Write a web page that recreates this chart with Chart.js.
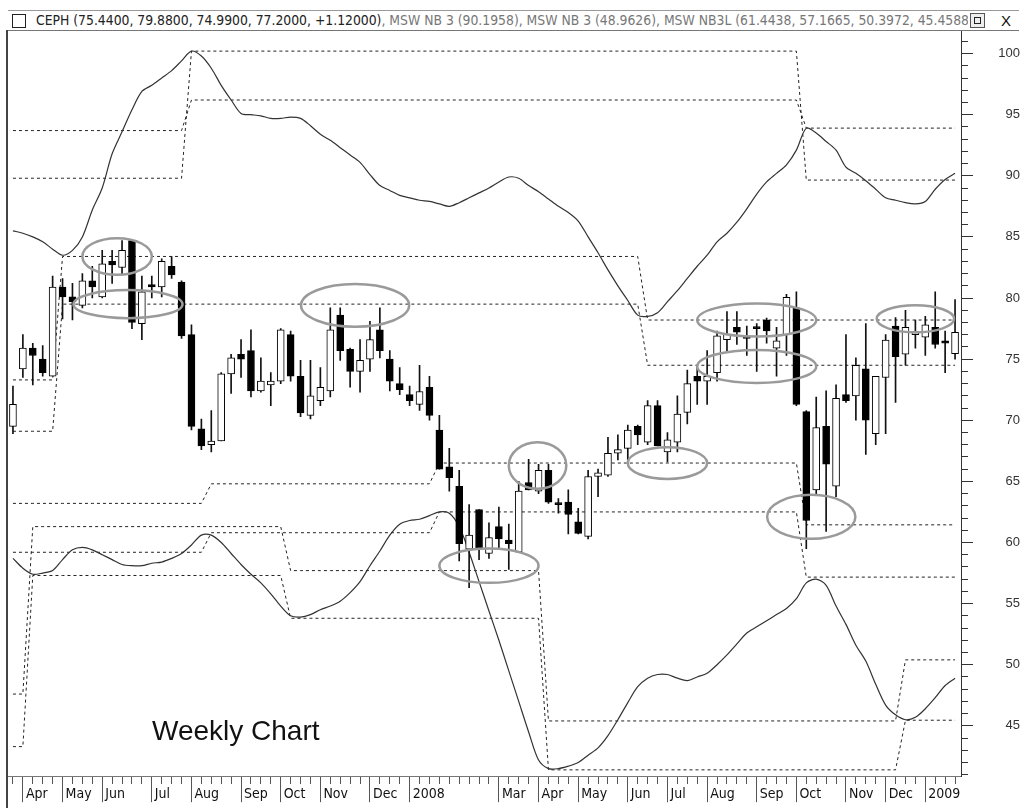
<!DOCTYPE html>
<html>
<head>
<meta charset="utf-8">
<script src="https://cdn.jsdelivr.net/npm/chart.js@4"></script>
<style>
  body { margin: 0; background: #fff; }
  #wrap { position: relative; width: 1020px; height: 808px; overflow: hidden; }
  #grafico { position: absolute; left: 0; top: 0; }
  #cabecalho {
    position: absolute; left: 8px; top: 10px; width: 1011px; height: 19px;
    border-top: 1px solid #999; border-bottom: 1px solid #777; background: #fff;
    font-family: "Liberation Sans Narrow", "DejaVu Sans Condensed", sans-serif;
    font-size: 13.8px; line-height: 19px; white-space: nowrap; overflow: hidden;
  }
  #cabecalho .icone { position: absolute; left: 4px; top: 3px; width: 12px; height: 12px; border: 1px solid #222; background: #fff; }
  #cabecalho .texto { position: absolute; left: 28px; top: 0; width: 932px; overflow: hidden; color: #777; }
  #cabecalho .texto b { font-weight: normal; color: #222; }
  #cabecalho .btn1 { position: absolute; left: 962px; top: 2px; width: 13px; height: 13px; border: 1px solid #555; background: #eee; }
  #cabecalho .btn1 span { position: absolute; left: 3px; top: 3px; width: 5px; height: 5px; border: 1px solid #222; }
  #cabecalho .btn2 { position: absolute; left: 993px; top: 0; font-family: "Liberation Sans", sans-serif; font-size: 15px; color: #111; }
  #moldura { position: absolute; left: 6px; top: 30px; width: 2px; height: 778px; background: #444; }
  #rotulo { position: absolute; left: 152px; top: 715px; font-family: "Liberation Sans", Arial, sans-serif; font-size: 28px; color: #111; }
</style>
</head>
<body>
<div id="wrap">
  <canvas id="grafico" width="1020" height="808"></canvas>
  <div id="cabecalho">
    <div class="icone"></div>
    <div class="texto"><b>CEPH (75.4400, 79.8800, 74.9900, 77.2000, +1.12000)</b>, MSW NB 3 (90.1958), MSW NB 3 (48.9626), MSW NB3L (61.4438, 57.1665, 50.3972, 45.4588</div>
    <div class="btn1"><span></span></div>
    <div class="btn2">X</div>
  </div>
  <div id="moldura"></div>
  <div id="rotulo">Weekly Chart</div>
</div>
<script>
// semanas: 0 = final de marco 2007 ... 95 = janeiro 2009
var abertura = [69.5, 74.2, 75.9, 75.0, 73.6, 80.9, 80.1, 79.4, 81.4, 80.1, 83.0, 82.5, 84.7, 77.9, 81.1, 80.9,
  82.6, 81.3, 77.0, 69.3, 68.0, 68.3, 73.8, 75.4, 75.7, 72.4, 72.9, 73.2, 77.0, 73.6, 70.4, 71.6,
  72.4, 78.6, 75.8, 74.0, 75.0, 77.4, 75.0, 73.0, 72.1, 71.3, 72.7, 69.2, 66.2, 64.6, 59.45, 62.7,
  59.1, 61.3, 60.2, 59.2, 64.9, 64.2, 65.9, 63.2, 63.3, 61.7, 60.5, 65.4, 65.5, 67.3, 67.7, 69.5,
  68.2, 71.2, 67.4, 68.2, 70.65, 73.6, 73.2, 73.9, 76.6, 77.6, 76.8, 77.6, 78.2, 75.9, 77.0, 79.2,
  70.7, 64.3, 69.5, 64.6, 72.1, 72.0, 74.2, 68.9, 73.5, 77.7, 75.4, 77.0, 76.8, 77.6, 76.5, 75.44];
var maxima = [72.8, 77.0, 76.3, 76.1, 81.8, 81.6, 81.2, 82.0, 82.6, 83.9, 83.9, 84.7, 84.8, 81.8, 81.8, 83.2,
  83.4, 81.4, 77.8, 70.1, 70.8, 73.9, 75.4, 76.6, 77.4, 75.1, 73.9, 77.5, 77.3, 74.9, 74.9, 74.3,
  79.2, 79.2, 75.9, 76.6, 78.1, 79.2, 75.7, 74.3, 72.8, 74.5, 73.6, 70.4, 67.7, 65.9, 63.1, 62.7,
  61.6, 62.9, 61.5, 65.0, 66.8, 66.4, 66.4, 63.6, 64.3, 62.8, 65.9, 66.0, 68.6, 68.8, 69.6, 69.6,
  71.6, 71.6, 69.0, 72.0, 74.1, 74.5, 75.7, 77.3, 78.9, 78.9, 77.7, 77.9, 78.35, 77.6, 80.3, 80.5,
  70.8, 71.9, 72.4, 72.9, 77.0, 75.1, 77.9, 73.6, 77.0, 78.4, 79.0, 78.2, 78.5, 80.5, 77.3, 79.88];
var minimas = [68.9, 73.5, 72.9, 73.6, 73.6, 78.3, 78.2, 79.2, 80.0, 80.0, 81.2, 82.0, 77.5, 76.6, 80.0, 80.1,
  81.6, 76.7, 69.2, 67.6, 67.4, 68.3, 72.2, 73.5, 71.9, 72.3, 71.2, 73.0, 73.2, 70.3, 70.1, 71.2,
  71.9, 74.9, 72.7, 72.3, 74.0, 75.1, 72.4, 72.1, 71.2, 70.8, 70.0, 66.0, 64.2, 58.5, 56.3, 58.6,
  58.7, 59.5, 57.8, 59.2, 64.3, 64.0, 63.2, 62.4, 60.7, 60.7, 60.3, 63.75, 65.4, 66.75, 66.7, 68.0,
  68.0, 67.9, 66.6, 67.4, 69.7, 71.3, 71.3, 73.2, 75.7, 76.2, 75.3, 74.0, 76.3, 73.6, 75.3, 71.2,
  59.5, 64.0, 60.9, 63.75, 71.45, 70.0, 67.2, 68.0, 68.9, 71.45, 74.5, 75.9, 75.3, 75.9, 73.9, 74.99];
var fechamento = [71.3, 75.9, 75.3, 73.9, 80.9, 80.1, 79.7, 81.4, 80.9, 82.8, 82.7, 83.9, 78.0, 80.5, 80.9, 83.0,
  81.9, 76.9, 69.5, 67.9, 68.3, 73.8, 75.1, 75.0, 72.4, 73.2, 73.2, 77.4, 73.6, 70.6, 72.0, 72.7,
  77.4, 75.7, 74.0, 74.9, 76.6, 75.7, 73.2, 72.5, 71.6, 72.35, 70.4, 66.0, 65.3, 59.9, 60.6, 59.45,
  60.4, 60.3, 59.9, 64.2, 64.3, 65.9, 63.3, 63.1, 62.3, 60.75, 65.4, 65.7, 67.3, 67.6, 69.2, 68.8,
  71.2, 67.9, 68.4, 70.5, 73.0, 73.2, 73.6, 76.9, 77.05, 77.2, 76.7, 77.5, 77.3, 76.5, 80.05, 71.3,
  61.8, 69.4, 66.4, 71.8, 71.6, 74.5, 70.0, 73.6, 76.55, 75.2, 77.6, 77.0, 77.8, 76.2, 76.3, 77.20];

// MSW NB 3 (curvas continuas)
var bandaSuperior = [85.5, 85.3, 85.0, 84.6, 84.0, 83.5, 83.9, 85.0, 87.2, 89.0, 91.8, 93.6, 95.4, 96.9, 97.4, 98.0,
  98.6, 99.4, 100.2, 99.8, 98.8, 97.4, 96.2, 95.1, 95.0, 94.9, 94.7, 94.7, 94.8, 94.7, 94.1, 93.4,
  92.9, 92.3, 91.7, 91.1, 90.1, 89.2, 88.8, 88.4, 88.2, 88.0, 87.9, 87.7, 87.5, 87.8, 88.2, 88.6,
  89.0, 89.5, 89.9, 89.8, 89.2, 88.7, 88.1, 87.5, 87.0, 86.3, 85.0, 83.7, 82.3, 81.0, 79.8, 78.6,
  78.5, 78.8, 79.7, 80.6, 81.6, 82.6, 83.5, 84.6, 85.3, 86.2, 87.3, 88.5, 89.5, 90.2, 90.9, 92.1,
  93.9, 93.5, 92.8, 92.1, 90.7, 90.2, 89.6, 88.9, 88.2, 88.0, 87.8, 87.7, 87.9, 88.9, 89.7, 90.2];
var bandaInferior = [58.7, 57.9, 57.4, 57.5, 57.7, 58.6, 59.4, 59.6, 59.4, 59.0, 58.6, 58.2, 58.1, 58.1, 58.3, 58.4,
  58.7, 59.1, 59.8, 60.6, 60.6, 60.0, 59.1, 58.2, 57.4, 56.7, 55.8, 54.8, 54.0, 53.9, 54.1, 54.5,
  54.8, 55.2, 55.9, 56.8, 58.1, 59.3, 60.6, 61.5, 61.8, 61.9, 62.2, 62.5, 62.4, 61.3, 59.2, 56.8,
  54.4, 52.0, 49.5, 47.0, 44.5, 42.2, 41.5, 41.5, 41.7, 42.0, 42.6, 43.2, 44.2, 45.5, 46.9, 48.2,
  48.9, 49.2, 49.2, 48.9, 48.7, 49.0, 49.3, 50.0, 50.8, 51.7, 52.6, 53.1, 53.6, 54.1, 54.6, 55.4,
  56.7, 57.0, 56.5, 54.8, 53.3, 51.6, 50.3, 48.4, 46.7, 45.9, 45.5, 45.7, 46.4, 47.3, 48.3, 48.9];

// linhas tracejadas em degraus: niveis e semana em que cada novo nivel comeca
var nivelSup1 = [93.7, 96.2, 93.9];
var nivelSup2 = [89.8, 100.2, 89.65];
var quebrasSup = [18, 80];
var nivelMeio1 = [73.3, 83.4, 78.2];
var nivelMeio2 = [69.1, 79.5, 74.5];
var quebrasMeio = [5, 64];
var nivelNB3L1 = [63.2, 64.8, 66.5, 61.4438];
var nivelNB3L2 = [59.2, 60.8, 62.5, 57.1665];
var quebrasNB3L_a = [20, 43, 80];
var nivelNB3L3 = [47.6, 61.3, 57.7, 45.4, 50.3972];
var nivelNB3L4 = [43.3, 57.3, 53.8, 41.4, 45.4588];
var quebrasNB3L_b = [2, 28, 54, 90];

// elipses de destaque
var elipseSemana = [10.5, 11.6, 34.5, 48.0, 52.9, 66.0, 75.0, 75.0, 80.5, 91.0];
var elipseValor = [83.4, 79.5, 79.4, 58.1, 66.3, 66.5, 78.2, 74.4, 62.1, 78.3];
var elipseLargura = [3.5, 5.5, 5.45, 5.0, 2.9, 4.0, 6.0, 6.0, 4.45, 3.9];
var elipseAltura = [1.5, 1.15, 1.75, 1.4, 1.9, 1.3, 1.35, 1.35, 1.8, 1.1];

// eixo x
var inicioMes = [1, 5, 9, 14, 18, 23, 27, 31, 36, 40, 49, 53, 57, 62, 66, 70, 75, 79, 84, 88, 92];
var nomeMes = ['Apr', 'May', 'Jun', 'Jul', 'Aug', 'Sep', 'Oct', 'Nov', 'Dec', '2008', 'Mar', 'Apr', 'May',
  'Jun', 'Jul', 'Aug', 'Sep', 'Oct', 'Nov', 'Dec', '2009'];

var yMin = 40.88;
var yMax = 101.78;

function degraus(niveis, quebras) {
  var saida = [];
  for (var i = 0; i < abertura.length; i++) {
    var k = 0;
    while (k < quebras.length && i >= quebras[k]) k++;
    saida.push({ x: i, y: niveis[k] });
  }
  return saida;
}

function pontos(serie) {
  return serie.map((v, i) => ({ x: i, y: v }));
}

var pavios = [];
var corposAlta = [];
var corposBaixa = [];
for (var i = 0; i < abertura.length; i++) {
  pavios.push({ x: i, y: [minimas[i], maxima[i]] });
  if (fechamento[i] >= abertura[i]) {
    corposAlta.push({ x: i, y: [abertura[i], fechamento[i]] });
  } else {
    corposBaixa.push({ x: i, y: [fechamento[i], abertura[i]] });
  }
}

function tracejada(dados) {
  return {
    type: 'line', data: dados, borderColor: '#222', borderWidth: 1, borderDash: [3, 3],
    pointRadius: 0, tension: 0, fill: false, order: 5
  };
}

const elipses = {
  id: 'elipses',
  afterDatasetsDraw(chart) {
    const c = chart.ctx;
    const sx = chart.scales.x;
    const sy = chart.scales.y;
    c.save();
    c.strokeStyle = '#9a9a9a';
    c.lineWidth = 2.5;
    for (let k = 0; k < elipseSemana.length; k++) {
      const cx = sx.getPixelForValue(elipseSemana[k]);
      const cy = sy.getPixelForValue(elipseValor[k]);
      const rx = Math.abs(sx.getPixelForValue(elipseSemana[k] + elipseLargura[k]) - cx);
      const ry = Math.abs(sy.getPixelForValue(elipseValor[k] + elipseAltura[k]) - cy);
      c.beginPath();
      c.ellipse(cx, cy, rx, ry, 0, 0, Math.PI * 2);
      c.stroke();
    }
    c.restore();
  }
};

const ctx = document.getElementById('grafico').getContext('2d');

let grafico1 = new Chart(ctx, {
  type: 'bar',
  data: {
    datasets: [
      { label: 'corpo alta', data: corposAlta, backgroundColor: '#fff', borderColor: '#000', borderWidth: 1,
        borderSkipped: false, barThickness: 7, minBarLength: 2, grouped: false, order: 0 },
      { label: 'corpo baixa', data: corposBaixa, backgroundColor: '#000', borderColor: '#000', borderWidth: 1,
        borderSkipped: false, barThickness: 7, minBarLength: 2, grouped: false, order: 0 },
      { label: 'pavio', data: pavios, backgroundColor: '#111', borderWidth: 0, barThickness: 1,
        grouped: false, order: 1 },
      { type: 'line', data: pontos(bandaSuperior), borderColor: '#333', borderWidth: 1.2, pointRadius: 0, tension: 0.3, order: 4 },
      { type: 'line', data: pontos(bandaInferior), borderColor: '#333', borderWidth: 1.2, pointRadius: 0, tension: 0.3, order: 4 },
      tracejada(degraus(nivelSup1, quebrasSup)),
      tracejada(degraus(nivelSup2, quebrasSup)),
      tracejada(degraus(nivelMeio1, quebrasMeio)),
      tracejada(degraus(nivelMeio2, quebrasMeio)),
      tracejada(degraus(nivelNB3L1, quebrasNB3L_a)),
      tracejada(degraus(nivelNB3L2, quebrasNB3L_a)),
      tracejada(degraus(nivelNB3L3, quebrasNB3L_b)),
      tracejada(degraus(nivelNB3L4, quebrasNB3L_b))
    ]
  },
  options: {
    responsive: false,
    animation: false,
    devicePixelRatio: 1,
    layout: { padding: { top: 31, left: 8, right: 0, bottom: 0 } },
    plugins: { legend: { display: false }, tooltip: { enabled: false } },
    scales: {
      x: {
        type: 'linear', position: 'bottom', min: -0.5, max: 95.6, offset: false,
        afterBuildTicks: (s) => { s.ticks = abertura.map((v, i) => ({ value: i })); },
        afterFit: (s) => { s.height = 26; },
        border: { display: true, color: '#777', width: 1 },
        grid: {
          offset: false, drawOnChartArea: false, drawTicks: true, tickLength: 26, tickColor: '#555',
          tickBorderDash: (c) => inicioMes.includes(c.tick && c.tick.value) ? [] : [7, 100]
        },
        ticks: {
          autoSkip: false, maxRotation: 0, align: 'start', padding: -16, labelOffset: 3,
          color: '#111', font: { family: '"Liberation Sans Narrow", "DejaVu Sans Condensed", sans-serif', size: 14 },
          callback: (v) => { const k = inicioMes.indexOf(v); return k >= 0 ? nomeMes[k] : ''; }
        }
      },
      y: {
        type: 'linear', position: 'right', min: yMin, max: yMax,
        afterBuildTicks: (s) => { const t = []; for (let v = 41; v <= 101; v++) t.push({ value: v }); s.ticks = t; },
        afterFit: (s) => { s.width = 59; },
        border: { display: true, color: '#333', width: 1 },
        grid: {
          drawOnChartArea: false, tickLength: 12, tickColor: '#333',
          tickBorderDash: (c) => (c.tick && c.tick.value % 5 === 0) ? [] : [6, 100]
        },
        ticks: {
          autoSkip: false, crossAlign: 'far', padding: 24, color: '#333',
          font: { family: '"Liberation Sans", Arial, sans-serif', size: 13 },
          callback: (v) => v % 5 === 0 ? v : ''
        }
      }
    }
  },
  plugins: [elipses]
});
</script>
</body>
</html>
